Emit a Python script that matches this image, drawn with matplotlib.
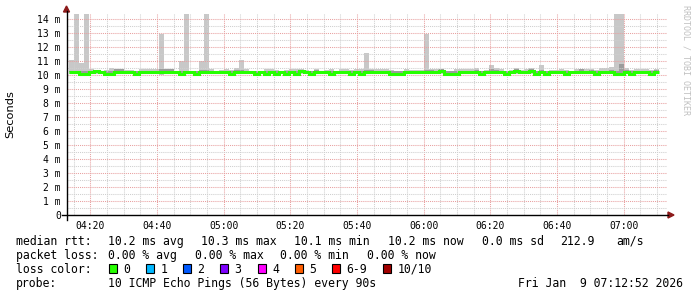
"""
smokeping style latency graph, redrawn with matplotlib
"""

import numpy as np
import matplotlib.pyplot as plt
from matplotlib.ticker import MultipleLocator, FuncFormatter
from matplotlib.patches import Polygon, Rectangle
from matplotlib.lines import Line2D

# ---- data (milliseconds, one bin per 90 s) ----
t_first = 253.5      # minutes after midnight of the first bin (04:13:30)
t_step = 1.5         # 90 s steps
t_view = (252.867, 432.867)   # 04:12:52 .. 07:12:52

med = [10.2, 10.2, 10.1, 10.1, 10.2, 10.3, 10.2, 10.1, 10.1, 10.2,
       10.2, 10.2, 10.2, 10.1, 10.2, 10.2, 10.2, 10.2, 10.2, 10.2,
       10.2, 10.2, 10.1, 10.2, 10.2, 10.1, 10.2, 10.2, 10.2, 10.2,
       10.2, 10.2, 10.1, 10.2, 10.2, 10.2, 10.2, 10.1, 10.2, 10.1,
       10.2, 10.1, 10.2, 10.1, 10.2, 10.1, 10.3, 10.2, 10.1, 10.2,
       10.2, 10.2, 10.1, 10.2, 10.2, 10.2, 10.1, 10.2, 10.1, 10.2,
       10.2, 10.2, 10.2, 10.2, 10.1, 10.1, 10.1, 10.2, 10.2, 10.2,
       10.2, 10.2, 10.2, 10.2, 10.3, 10.1, 10.1, 10.1, 10.2, 10.2,
       10.2, 10.2, 10.1, 10.2, 10.2, 10.2, 10.2, 10.1, 10.2, 10.3,
       10.2, 10.2, 10.3, 10.1, 10.2, 10.1, 10.2, 10.2, 10.2, 10.1,
       10.2, 10.2, 10.2, 10.2, 10.2, 10.1, 10.2, 10.2, 10.2, 10.1,
       10.1, 10.2, 10.1, 10.2, 10.2, 10.2, 10.1, 10.2]

hi = [11.1, 14.6, 10.85, 14.6, 10.4, 10.35, 10.3, 10.35, 10.5, 10.3,
      10.35, 10.35, 10.35, 10.3, 10.4, 10.4, 10.4, 10.4, 12.9, 10.45,
      10.4, 10.3, 11.0, 14.6, 10.3, 10.3, 11.0, 14.6, 10.4, 10.3,
      10.35, 10.4, 10.35, 10.5, 11.05, 10.4, 10.3, 10.3, 10.3, 10.45,
      10.4, 10.35, 10.3, 10.35, 10.4, 10.4, 10.4, 10.35, 10.3, 10.45,
      10.3, 10.35, 10.45, 10.3, 10.45, 10.4, 10.35, 10.4, 10.4, 11.55,
      10.45, 10.4, 10.45, 10.4, 10.35, 10.3, 10.3, 10.4, 10.35, 10.35,
      10.35, 12.9, 10.4, 10.45, 10.45, 10.3, 10.3, 10.45, 10.45, 10.45,
      10.45, 10.5, 10.3, 10.35, 10.7, 10.5, 10.4, 10.3, 10.35, 10.5,
      10.35, 10.4, 10.5, 10.3, 10.7, 10.3, 10.35, 10.35, 10.45, 10.35,
      10.3, 10.4, 10.35, 10.45, 10.45, 10.35, 10.5, 10.5, 10.6, 14.6,
      14.6, 10.5, 10.35, 10.45, 10.45, 10.4, 10.35, 10.45]

lo = [10.05, 10.05, 10.0, 10.0, 10.05, 10.1, 10.05, 10.0, 10.0, 10.05,
      10.05, 10.05, 10.05, 10.0, 10.05, 10.05, 10.05, 10.05, 10.0, 10.05,
      10.05, 10.05, 10.0, 10.05, 10.05, 10.0, 10.05, 10.05, 10.05, 10.05,
      10.05, 10.05, 10.0, 10.05, 10.05, 10.05, 10.05, 10.0, 10.05, 10.0,
      10.05, 10.0, 10.05, 10.0, 10.05, 10.0, 10.1, 10.05, 10.0, 10.05,
      10.05, 10.05, 10.0, 10.05, 10.05, 10.05, 10.0, 10.05, 10.0, 10.05,
      10.05, 10.05, 10.05, 10.05, 10.0, 10.0, 10.0, 10.05, 10.05, 10.05,
      10.05, 10.05, 10.05, 10.05, 10.1, 10.0, 10.0, 10.0, 10.05, 10.05,
      10.05, 10.05, 10.0, 10.05, 10.05, 10.05, 10.05, 10.0, 10.05, 10.1,
      10.05, 10.05, 10.1, 10.0, 10.05, 10.0, 10.05, 10.05, 10.05, 10.0,
      10.05, 10.05, 10.05, 10.05, 10.05, 10.0, 10.05, 10.05, 10.05, 10.0,
      10.0, 10.05, 10.0, 10.05, 10.05, 10.05, 10.0, 10.05]

dk = [10.3, 10.3, 10.25, 10.25, 10.3, 10.35, 10.25, 10.25, 10.25, 10.4,
      10.4, 10.3, 10.3, 10.25, 10.3, 10.3, 10.3, 10.3, 10.45, 10.45,
      10.4, 10.25, 10.25, 10.3, 10.3, 10.25, 10.35, 10.35, 10.3, 10.3,
      10.3, 10.3, 10.25, 10.35, 10.35, 10.3, 10.25, 10.25, 10.25, 10.25,
      10.3, 10.25, 10.3, 10.25, 10.3, 10.25, 10.35, 10.3, 10.25, 10.35,
      10.3, 10.3, 10.25, 10.25, 10.3, 10.3, 10.25, 10.3, 10.25, 10.35,
      10.35, 10.3, 10.3, 10.3, 10.25, 10.25, 10.25, 10.3, 10.3, 10.3,
      10.3, 10.35, 10.35, 10.3, 10.4, 10.25, 10.25, 10.25, 10.3, 10.3,
      10.3, 10.35, 10.25, 10.3, 10.45, 10.35, 10.3, 10.25, 10.3, 10.4,
      10.3, 10.3, 10.45, 10.25, 10.35, 10.25, 10.3, 10.3, 10.3, 10.25,
      10.3, 10.3, 10.4, 10.3, 10.35, 10.25, 10.3, 10.3, 10.35, 10.3,
      10.75, 10.35, 10.25, 10.3, 10.3, 10.3, 10.25, 10.35]

legend_rtt = [('median rtt:', 16), ('10.2 ms avg', 108.5), ('10.3 ms max', 201),
              ('10.1 ms min', 293.5), ('10.2 ms now', 388.5), ('0.0 ms sd', 481.5),
              ('212.9', 560.5), ('am/s', 616.5)]
legend_loss = [('packet loss:', 16), ('0.00 % avg', 108.5), ('0.00 % max', 195),
               ('0.00 % min', 280.5), ('0.00 % now', 366.5)]
loss_labels = ['0', '1', '2', '3', '4', '5', '6-9', '10/10']
loss_colors = ['#26ff00', '#00b8ff', '#0059ff', '#7e00ff', '#ff00ff', '#ff5e00', '#ff0000', '#a10000']
loss_xpos = [108.5, 146, 183, 220, 257.5, 295, 332, 383]
probe_txt = '10 ICMP Echo Pings (56 Bytes) every 90s'
date_txt = 'Fri Jan  9 07:12:52 2026'

# ---- figure ----
W, H = 697, 297
mono = 'DejaVu Sans Mono'
fig = plt.figure(figsize=(W / 100, H / 100), dpi=100)
fig.patch.set_facecolor('white')

def fx(x):
    return x / W

def fy(y):
    return 1 - y / H

ax = fig.add_axes([fx(66.5), fy(215), 600 / W, 201.5 / H])
ax.set_xlim(*t_view)
ax.set_ylim(0, 14.39)

edges = t_first + t_step * np.arange(len(med) + 1)

# smoke and median
ax.stairs(hi, edges, baseline=lo, fill=True, color='#c8c8c8', lw=0, zorder=1)
ax.stairs(dk, edges, baseline=med, fill=True, color='#9c9c9c', lw=0, zorder=1.2)
ax.stairs(med, edges, baseline=None, color='#26ff00', lw=2.2, zorder=3)

# grid, rrdtool look
ax.xaxis.set_major_locator(MultipleLocator(20))
ax.xaxis.set_minor_locator(MultipleLocator(5))
ax.yaxis.set_major_locator(MultipleLocator(1))
ax.yaxis.set_minor_locator(MultipleLocator(0.5))
ax.set_axisbelow(False)
ax.grid(which='minor', color='#cfcfcf', lw=0.75, ls=(0, (1, 1)), zorder=2)
ax.grid(which='major', color='#e8a0a0', lw=0.75, ls=(0, (1, 1)), zorder=2.1)

ax.xaxis.set_major_formatter(FuncFormatter(lambda v, p: '%02d:%02d' % (int(round(v)) // 60, int(round(v)) % 60)))
ax.yaxis.set_major_formatter(FuncFormatter(lambda v, p: '0' if abs(v) < 1e-9 else '%d m' % round(v)))
ax.tick_params(which='both', length=0)
ax.tick_params(axis='y', labelsize=7, pad=4)
ax.tick_params(axis='x', labelsize=7, pad=4)
for lab in ax.get_xticklabels() + ax.get_yticklabels():
    lab.set_family(mono)
for s in ax.spines.values():
    s.set_visible(False)

# axis lines with arrows
fig.add_artist(Line2D([fx(66.5), fx(66.5)], [fy(220), fy(11)], color='black', lw=1))
fig.add_artist(Line2D([fx(62), fx(668)], [fy(215), fy(215)], color='black', lw=1))
fig.add_artist(Polygon([(fx(63.5), fy(12)), (fx(69.5), fy(12)), (fx(66.5), fy(6))],
                       closed=True, color='#8c1a1a', transform=fig.transFigure))
fig.add_artist(Polygon([(fx(668), fy(212)), (fx(668), fy(218)), (fx(674), fy(215))],
                       closed=True, color='#8c1a1a', transform=fig.transFigure))

fig.text(fx(10), fy(114), 'Seconds', rotation=90, ha='center', va='center', fontsize=8.2)
fig.text(fx(686), fy(60), 'RRDTOOL / TOBI OETIKER', rotation=270, ha='center', va='center',
         fontsize=6, color='#c0c0c0', family=mono)

# legend block
fs = 8.3
for txt, x in legend_rtt:
    fig.text(fx(x), fy(245), txt, fontsize=fs, family=mono, va='baseline')
for txt, x in legend_loss:
    fig.text(fx(x), fy(259), txt, fontsize=fs, family=mono, va='baseline')
fig.text(fx(16), fy(273), 'loss color:', fontsize=fs, family=mono, va='baseline')
for lab, col, x in zip(loss_labels, loss_colors, loss_xpos):
    fig.add_artist(Rectangle((fx(x), fy(273)), 8 / W, 9 / H, facecolor=col, edgecolor='black',
                             lw=0.8, transform=fig.transFigure))
    fig.text(fx(x + 14.5), fy(273), lab, fontsize=fs, family=mono, va='baseline')
fig.text(fx(16), fy(287), 'probe:', fontsize=fs, family=mono, va='baseline')
fig.text(fx(108.5), fy(287), probe_txt, fontsize=fs, family=mono, va='baseline')
fig.text(fx(683), fy(287), date_txt, fontsize=fs, family=mono, va='baseline', ha='right')

fig.savefig('out.png', dpi=100)
